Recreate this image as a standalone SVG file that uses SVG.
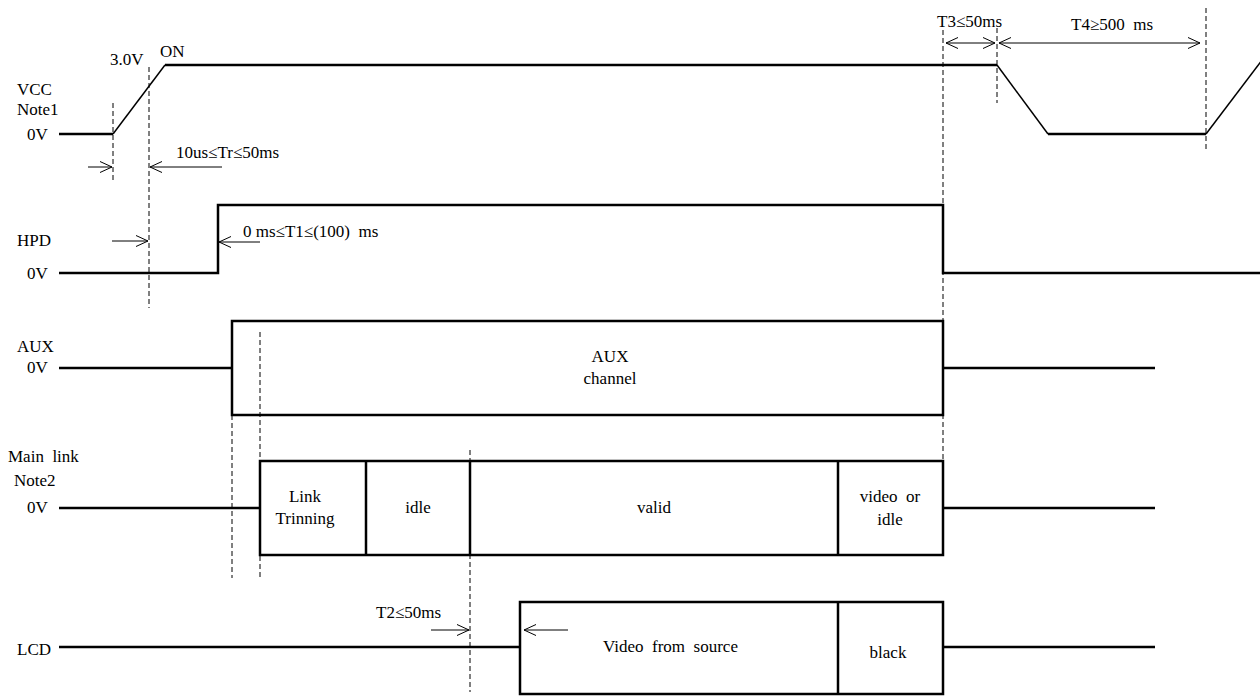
<svg xmlns="http://www.w3.org/2000/svg" width="1260" height="697" viewBox="0 0 1260 697">
<style>
text{font-family:'Liberation Serif','DejaVu Serif',serif;font-size:17px;fill:#000;white-space:pre}
.sig{fill:none;stroke:#000;stroke-width:2.5;stroke-linejoin:miter}
.ramp{fill:none;stroke:#000;stroke-width:1.5}
.box{fill:none;stroke:#000;stroke-width:2.5}
.dash{fill:none;stroke:#000;stroke-width:1;stroke-dasharray:5,3}
.arr{fill:none;stroke:#000;stroke-width:1}
.c{text-anchor:middle}
</style>
<defs>
<marker id="ah" markerUnits="userSpaceOnUse" markerWidth="14" markerHeight="12" refX="12" refY="6" orient="auto-start-reverse">
<polyline points="0,0.5 12,6 0,11.5" fill="none" stroke="#000" stroke-width="1"/>
</marker>
</defs>

<g id="labels">
<text x="17" y="95">VCC</text>
<text x="17" y="115">Note1</text>
<text x="27" y="140">0V</text>
<text x="17" y="246">HPD</text>
<text x="27" y="279">0V</text>
<text x="17" y="352">AUX</text>
<text x="27" y="373">0V</text>
<text x="8" y="462" xml:space="preserve">Main  link</text>
<text x="14" y="486">Note2</text>
<text x="27" y="513">0V</text>
<text x="17" y="655">LCD</text>
</g>

<g id="vcc">
<polyline class="sig" points="59,134 113,134"/>
<line class="ramp" x1="113" y1="134" x2="165" y2="65"/>
<polyline class="sig" points="165,65 997,65"/>
<line class="ramp" x1="997" y1="65" x2="1048" y2="134"/>
<polyline class="sig" points="1048,134 1206,134"/>
<line class="ramp" x1="1206" y1="134" x2="1262" y2="60"/>
<text x="110" y="65">3.0V</text>
<text x="160" y="57">ON</text>
</g>

<g id="hpd">
<polyline class="sig" points="59,273 218,273 218,205 943,205 943,273 1260,273"/>
</g>

<g id="aux">
<line class="sig" x1="59" y1="368" x2="232" y2="368"/>
<rect class="box" x="232" y="321" width="711" height="94"/>
<line class="sig" x1="943" y1="368" x2="1155" y2="368"/>
<text class="c" x="610" y="362">AUX</text>
<text class="c" x="610" y="384">channel</text>
</g>

<g id="mainlink">
<line class="sig" x1="59" y1="508" x2="260" y2="508"/>
<rect class="box" x="260" y="461" width="683" height="94"/>
<line class="sig" x1="366" y1="461" x2="366" y2="555"/>
<line class="sig" x1="470" y1="461" x2="470" y2="555"/>
<line class="sig" x1="838" y1="461" x2="838" y2="555"/>
<line class="sig" x1="943" y1="508" x2="1155" y2="508"/>
<text class="c" x="305" y="502">Link</text>
<text class="c" x="305" y="524">Trinning</text>
<text class="c" x="418" y="513">idle</text>
<text class="c" x="654" y="513">valid</text>
<text class="c" x="890" y="502" xml:space="preserve">video  or</text>
<text class="c" x="890" y="525">idle</text>
</g>

<g id="lcd">
<line class="sig" x1="59" y1="647" x2="520" y2="647"/>
<rect class="box" x="520" y="602" width="423" height="92"/>
<line class="sig" x1="838" y1="602" x2="838" y2="694"/>
<line class="sig" x1="943" y1="647" x2="1155" y2="647"/>
<text x="603" y="652" xml:space="preserve">Video  from  source</text>
<text class="c" x="888" y="658">black</text>
</g>

<g id="connectors">
<line class="dash" x1="113" y1="103" x2="113" y2="182"/>
<line class="dash" x1="149" y1="67" x2="149" y2="308"/>
<line class="dash" x1="943" y1="30" x2="943" y2="462"/>
<line class="dash" x1="997" y1="28" x2="997" y2="103"/>
<line class="dash" x1="1206" y1="8" x2="1206" y2="150"/>
<line class="dash" x1="260" y1="332" x2="260" y2="578"/>
<line class="dash" x1="232" y1="415" x2="232" y2="578"/>
<line class="dash" x1="470" y1="450" x2="470" y2="692"/>

<line class="arr" x1="88" y1="167" x2="112" y2="167" marker-end="url(#ah)"/>
<line class="arr" x1="222" y1="167" x2="150" y2="167" marker-end="url(#ah)"/>
<text x="176" y="158">10us≤Tr≤50ms</text>

<line class="arr" x1="112" y1="241" x2="148" y2="241" marker-end="url(#ah)"/>
<line class="arr" x1="260" y1="242" x2="219" y2="242" marker-end="url(#ah)"/>
<text x="243" y="237" xml:space="preserve">0 ms≤T1≤(100)  ms</text>

<line class="arr" x1="946" y1="43" x2="995" y2="43" marker-start="url(#ah)" marker-end="url(#ah)"/>
<line class="arr" x1="999" y1="43" x2="1200" y2="43" marker-start="url(#ah)" marker-end="url(#ah)"/>
<text x="937" y="27">T3≤50ms</text>
<text x="1071" y="30" xml:space="preserve">T4≥500  ms</text>

<line class="arr" x1="431" y1="630" x2="469" y2="630" marker-end="url(#ah)"/>
<line class="arr" x1="568" y1="630" x2="524" y2="630" marker-end="url(#ah)"/>
<text x="376" y="618">T2≤50ms</text>
</g>
</svg>
